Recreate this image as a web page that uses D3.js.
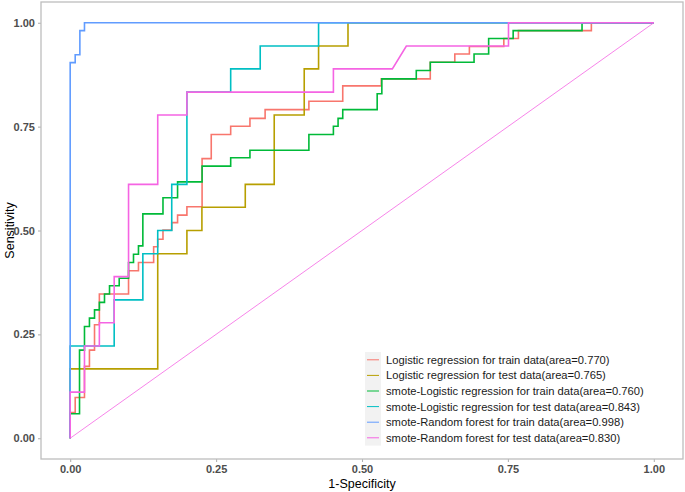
<!DOCTYPE html>
<meta charset="utf-8">
<title>ROC curves</title>
<style>
body { margin: 0; background: #fff; }
svg text { font-family: "Liberation Sans", Arial, sans-serif; }
</style>
<body>
<script src="https://d3js.org/d3.v7.min.js"></script>
<script>

var width = 685,
    height = 492;

// legend labels / series names
var seriesNames = [
  "Logistic regression for train data(area=0.770)",
  "Logistic regression for test data(area=0.765)",
  "smote-Logistic regression for train data(area=0.760)",
  "smote-Logistic regression for test data(area=0.843)",
  "smote-Random forest for train data(area=0.998)",
  "smote-Random forest for test data(area=0.830)"
];
var seriesColors = ["#F8766D", "#B79F00", "#00BA38", "#00BFC4", "#619CFF", "#F564E3"];

// ROC corner points (1-specificity, sensitivity)
var lrTrainFpr = [0, 0, 0.0086, 0.0086, 0.0245, 0.0245, 0.033, 0.033, 0.0417, 0.0417, 0.05, 0.05, 0.1, 0.1, 0.117, 0.117, 0.143, 0.143, 0.15, 0.15, 0.159, 0.159, 0.174, 0.174, 0.184, 0.184, 0.2, 0.2, 0.226, 0.226, 0.2417, 0.2417, 0.275, 0.275, 0.308, 0.308, 0.334, 0.334, 0.409, 0.409, 0.467, 0.467, 0.533, 0.533, 0.617, 0.617, 0.659, 0.659, 0.684, 0.684, 0.743, 0.743, 0.768, 0.768, 0.893, 0.893, 1];
var lrTrainTpr = [0, 0.062, 0.062, 0.098, 0.098, 0.173, 0.173, 0.212, 0.212, 0.273, 0.273, 0.347, 0.347, 0.403, 0.403, 0.423, 0.423, 0.461, 0.461, 0.479, 0.479, 0.501, 0.501, 0.519, 0.519, 0.537, 0.537, 0.557, 0.557, 0.673, 0.673, 0.731, 0.731, 0.751, 0.751, 0.770, 0.770, 0.791, 0.791, 0.811, 0.811, 0.848, 0.848, 0.865, 0.865, 0.905, 0.905, 0.925, 0.925, 0.943, 0.943, 0.962, 0.962, 0.981, 0.981, 1, 1];

var lrTestFpr = [0, 0, 0.150, 0.150, 0.200, 0.200, 0.2257, 0.2257, 0.300, 0.300, 0.3496, 0.3496, 0.401, 0.401, 0.4256, 0.4256, 0.476, 0.476, 1];
var lrTestTpr = [0, 0.167, 0.167, 0.444, 0.444, 0.500, 0.500, 0.556, 0.556, 0.611, 0.611, 0.778, 0.778, 0.889, 0.889, 0.944, 0.944, 1, 1];

var smLrTrainFpr = [0, 0, 0.016, 0.016, 0.0245, 0.0245, 0.033, 0.033, 0.0417, 0.0417, 0.05, 0.05, 0.0588, 0.0588, 0.0674, 0.0674, 0.084, 0.084, 0.1, 0.1, 0.1085, 0.1085, 0.117, 0.117, 0.1245, 0.1245, 0.159, 0.159, 0.184, 0.184, 0.226, 0.226, 0.275, 0.275, 0.308, 0.308, 0.409, 0.409, 0.451, 0.451, 0.459, 0.459, 0.467, 0.467, 0.526, 0.526, 0.534, 0.534, 0.593, 0.593, 0.617, 0.617, 0.692, 0.692, 0.717, 0.717, 0.759, 0.759, 0.877, 0.877, 1];
var smLrTrainTpr = [0, 0.059, 0.059, 0.212, 0.212, 0.269, 0.269, 0.289, 0.289, 0.309, 0.309, 0.327, 0.327, 0.347, 0.347, 0.367, 0.367, 0.385, 0.385, 0.423, 0.423, 0.443, 0.443, 0.463, 0.463, 0.540, 0.540, 0.579, 0.579, 0.617, 0.617, 0.655, 0.655, 0.675, 0.675, 0.693, 0.693, 0.731, 0.731, 0.751, 0.751, 0.770, 0.770, 0.791, 0.791, 0.829, 0.829, 0.865, 0.865, 0.885, 0.885, 0.905, 0.905, 0.925, 0.925, 0.962, 0.962, 0.981, 0.981, 1, 1];

var smLrTestFpr = [0, 0, 0.0754, 0.0754, 0.1245, 0.1245, 0.150, 0.150, 0.174, 0.174, 0.200, 0.200, 0.275, 0.275, 0.3256, 0.3256, 0.4256, 0.4256, 1];
var smLrTestTpr = [0, 0.222, 0.222, 0.333, 0.333, 0.444, 0.444, 0.500, 0.500, 0.611, 0.611, 0.833, 0.833, 0.889, 0.889, 0.944, 0.944, 1, 1];

var rfTrainFpr = [0, 0, 0.0086, 0.0086, 0.0166, 0.0166, 0.0245, 0.0245, 1];
var rfTrainTpr = [0, 0.904, 0.904, 0.923, 0.923, 0.981, 0.981, 1, 1];

var rfTestFpr = [0, 0, 0.0245, 0.0245, 0.050, 0.050, 0.0754, 0.0754, 0.100, 0.100, 0.150, 0.150, 0.200, 0.200, 0.451, 0.451, 0.552, 0.576, 0.751, 0.751, 1];
var rfTestTpr = [0, 0.111, 0.111, 0.222, 0.222, 0.278, 0.278, 0.389, 0.389, 0.611, 0.611, 0.778, 0.778, 0.833, 0.833, 0.889, 0.889, 0.944, 0.944, 1, 1];

var fprList = [lrTrainFpr, lrTestFpr, smLrTrainFpr, smLrTestFpr, rfTrainFpr, rfTestFpr];
var tprList = [lrTrainTpr, lrTestTpr, smLrTrainTpr, smLrTestTpr, rfTrainTpr, rfTestTpr];

var tickValues = [0, 0.25, 0.5, 0.75, 1];

var panel = {left: 41, right: 683, top: 2, bottom: 459};

var x = d3.scaleLinear().domain([-0.05, 1.05]).range([panel.left, panel.right]);
var y = d3.scaleLinear().domain([-0.05, 1.05]).range([panel.bottom, panel.top]);

var svg = d3.select("body").append("svg")
    .attr("width", width)
    .attr("height", height);

svg.append("rect")
    .attr("width", width).attr("height", height).attr("fill", "#fff");

// axes
var xAxis = svg.append("g")
    .attr("transform", "translate(0," + panel.bottom + ")")
    .call(d3.axisBottom(x).tickValues(tickValues).tickFormat(d3.format(".2f")).tickSize(3).tickPadding(3));
var yAxis = svg.append("g")
    .attr("transform", "translate(" + panel.left + ",0)")
    .call(d3.axisLeft(y).tickValues(tickValues).tickFormat(d3.format(".2f")).tickSize(3).tickPadding(3));

[xAxis, yAxis].forEach(function(g) {
  g.select(".domain").remove();
  g.selectAll(".tick line").attr("stroke", "#b3b3b3").attr("stroke-width", 1.1);
  g.selectAll(".tick text")
    .attr("fill", "#4d4d4d")
    .style("font-size", "11px")
    .style("font-weight", "bold")
    .style("font-family", "'Liberation Sans', Arial, sans-serif");
});

// curves
var line = d3.line()
    .x(function(d) { return x(d[0]); })
    .y(function(d) { return y(d[1]); });

var curves = fprList.map(function(f, i) {
  return f.map(function(v, j) { return [v, tprList[i][j]]; });
});

svg.append("g").selectAll("path")
    .data(curves)
    .enter().append("path")
    .attr("d", line)
    .attr("fill", "none")
    .attr("stroke", function(d, i) { return seriesColors[i]; })
    .attr("stroke-width", 1.6)
    .attr("stroke-linejoin", "miter");

// reference diagonal
svg.append("path")
    .attr("d", line([[0, 0], [1, 1]]))
    .attr("stroke", "#F564E3")
    .attr("stroke-width", 0.8)
    .attr("fill", "none");

// panel border
svg.append("rect")
    .attr("x", panel.left)
    .attr("y", panel.top)
    .attr("width", panel.right - panel.left)
    .attr("height", panel.bottom - panel.top)
    .attr("fill", "none")
    .attr("stroke", "#bdbdbd")
    .attr("stroke-width", 1.3);

// axis titles
svg.append("text")
    .attr("x", (x(0) + x(1)) / 2)
    .attr("y", 488)
    .attr("text-anchor", "middle")
    .style("font-size", "12.5px")
    .attr("fill", "#000")
    .text("1-Specificity");

svg.append("text")
    .attr("transform", "translate(14," + ((y(0) + y(1)) / 2) + ") rotate(-90)")
    .attr("text-anchor", "middle")
    .style("font-size", "12.5px")
    .attr("fill", "#000")
    .text("Sensitivity");

// legend
var legend = svg.append("g").attr("transform", "translate(365,352)");
var rowH = 15.6;

legend.append("rect")
    .attr("width", 16)
    .attr("height", rowH * seriesNames.length)
    .attr("fill", "#f2f2f2");

var rows = legend.selectAll("g.row")
    .data(seriesNames)
    .enter().append("g")
    .attr("class", "row")
    .attr("transform", function(d, i) { return "translate(0," + (i * rowH + rowH / 2) + ")"; });

rows.append("line")
    .attr("x1", 2).attr("x2", 14)
    .attr("stroke", function(d, i) { return seriesColors[i]; })
    .attr("stroke-width", 1);

rows.append("text")
    .attr("x", 21)
    .attr("dy", "0.35em")
    .style("font-size", "11.2px")
    .attr("fill", "#1a1a1a")
    .text(function(d) { return d; });

</script>
